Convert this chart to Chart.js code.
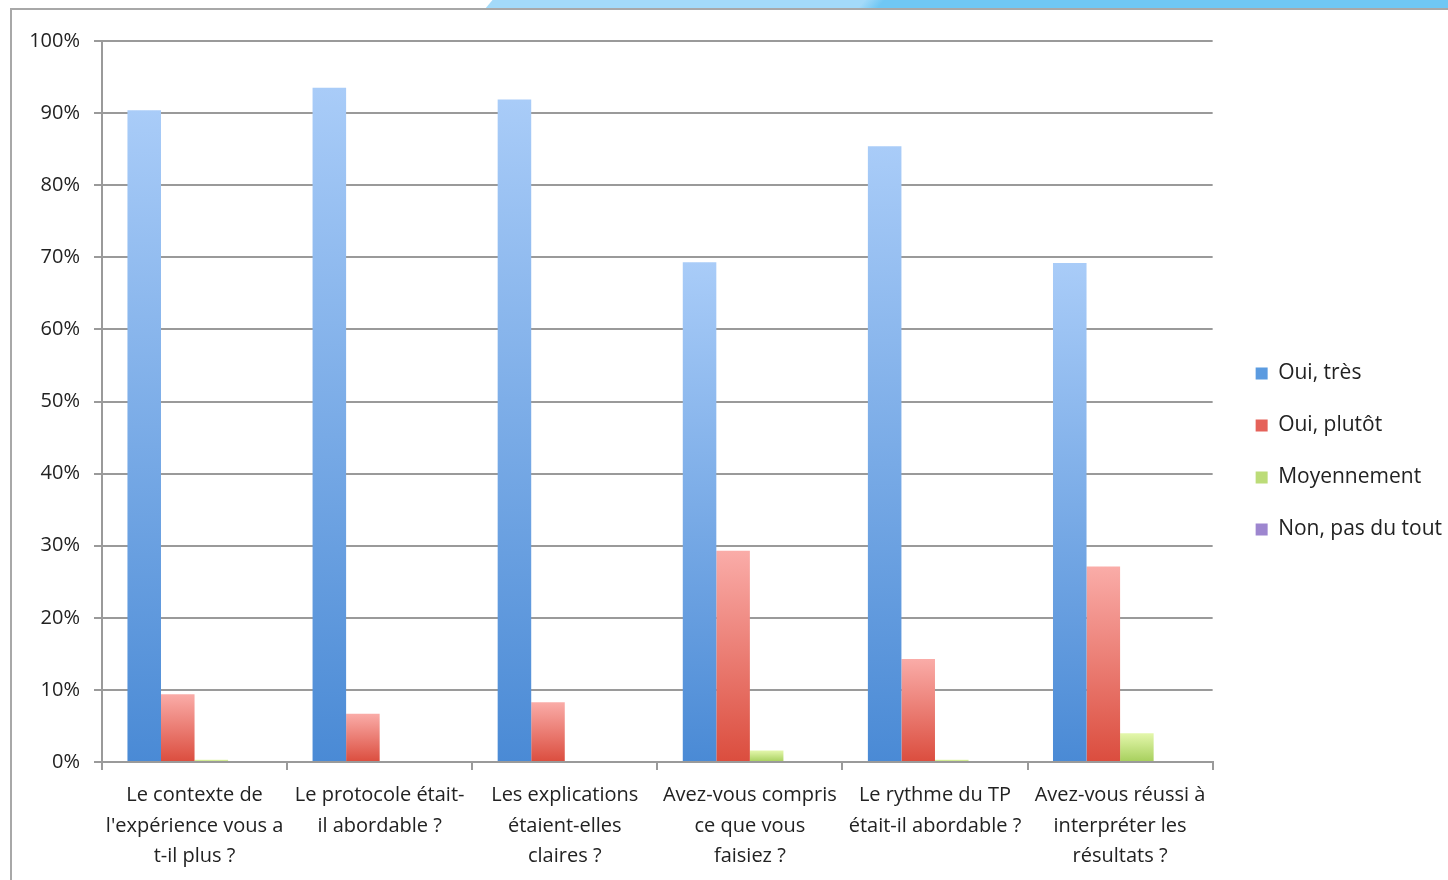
<!DOCTYPE html>
<html>
<head>
<meta charset="utf-8">
<script src="https://cdn.jsdelivr.net/npm/chart.js@4.4.1/dist/chart.umd.min.js"></script>
<style>
  html, body { margin: 0; padding: 0; background: #fff; }
  body { width: 1448px; height: 880px; position: relative; overflow: hidden; }
  #band {
    position: absolute; left: 490px; top: -2px; width: 980px; height: 10px;
    background: linear-gradient(90deg, #a3daf9 0%, #a3daf9 38%, #6fc7f4 40%, #6fc7f4 100%);
    transform: skewX(-40deg);
  }
  #frame {
    position: absolute; left: 10px; top: 8px; width: 1438px; height: 872px;
    border-left: 2px solid #a8a8a8; border-top: 2px solid #a8a8a8;
  }
  #wrap { position: absolute; left: 12px; top: 10px; width: 1436px; height: 870px; }
</style>
</head>
<body>
<div id="band"></div>
<div id="frame"></div>
<div id="wrap"><canvas id="c"></canvas></div>
<script>
const categories = [
    ["Le contexte de", "l'expérience vous a", "t-il plus ?"],
    ["Le protocole était-", "il abordable ?"],
    ["Les explications", "étaient-elles", "claires ?"],
    ["Avez-vous compris", "ce que vous", "faisiez ?"],
    ["Le rythme du TP", "était-il abordable ?"],
    ["Avez-vous réussi à", "interpréter les", "résultats ?"]
];

const seriesNames = ['Oui, très', 'Oui, plutôt', 'Moyennement', 'Non, pas du tout'];

const ouiTres     = [90.4, 93.5, 91.9, 69.3, 85.4, 69.2];
const ouiPlutot   = [9.4, 6.7, 8.3, 29.3, 14.3, 27.1];
const moyennement = [0.3, 0, 0, 1.6, 0.3, 4.0];
const nonPasDuTout = [0, 0, 0, 0, 0, 0];

const yTicks = [0, 10, 20, 30, 40, 50, 60, 70, 80, 90, 100];

// light (top) / dark (bottom) per series, plus flat legend colour
const shades = [
    { light: '#a9ccf8', dark: '#4a8ad5', flat: '#5b9be0' },
    { light: '#faaca8', dark: '#db4d3e', flat: '#e5625a' },
    { light: '#e4f7ac', dark: '#a6cf5c', flat: '#bcdc78' },
    { light: '#cbb6e8', dark: '#8a6cbf', flat: '#9d86cf' }
];

const font = "'Open Sans', 'DejaVu Sans', sans-serif";

function barGradient(light, dark) {
    return ctx => {
        if (ctx.type !== 'data' || !ctx.parsed) return dark;
        const y = ctx.chart.scales.y;
        const top = y.getPixelForValue(ctx.parsed.y);
        const base = y.getPixelForValue(0);
        if (!isFinite(top) || !isFinite(base) || base - top < 1) return dark;
        const g = ctx.chart.ctx.createLinearGradient(0, top, 0, base);
        g.addColorStop(0, light);
        g.addColorStop(1, dark);
        return g;
    };
}

const seriesValues = [ouiTres, ouiPlutot, moyennement, nonPasDuTout];

const datasets = seriesValues.map((vals, i) => ({
    label: seriesNames[i],
    data: vals,
    backgroundColor: barGradient(shades[i].light, shades[i].dark),
    borderWidth: 0,
    barPercentage: 1,
    categoryPercentage: 0.725
}));

// nudge the legend box a bit right/up, like the original sheet
const legendNudge = {
    id: 'legendNudge',
    afterLayout(chart) {
        const lg = chart.legend;
        if (!lg) return;
        lg.left += 12; lg.right += 12;
        lg.top -= 9; lg.bottom -= 9;
    }
};

new Chart(document.getElementById('c').getContext('2d'), {
    type: 'bar',
    data: { labels: categories, datasets },
    plugins: [legendNudge],
    options: {
        responsive: true,
        maintainAspectRatio: false,
        animation: false,
        layout: { padding: { top: 31, right: 8, left: 0, bottom: 0 } },
        scales: {
            y: {
                min: 0,
                max: 100,
                afterBuildTicks: s => { s.ticks = yTicks.map(v => ({ value: v })); },
                afterFit: s => { s.width = 90; },
                ticks: {
                    callback: v => v + '%',
                    color: '#222',
                    font: { family: font, size: 20 },
                    padding: 14
                },
                grid: { color: '#9a9a9a', lineWidth: 2, tickLength: 8 },
                border: { color: '#9a9a9a', width: 2 }
            },
            x: {
                afterFit: s => { s.height = 118; },
                ticks: {
                    color: '#222',
                    font: { family: font, size: 20, lineHeight: 1.53 },
                    maxRotation: 0,
                    autoSkip: false,
                    padding: 10
                },
                grid: {
                    offset: true,
                    drawOnChartArea: false,
                    color: '#9a9a9a',
                    lineWidth: 2,
                    tickLength: 8
                },
                border: { color: '#9a9a9a', width: 2 }
            }
        },
        plugins: {
            tooltip: { enabled: false },
            legend: {
                position: 'right',
                labels: {
                    boxWidth: 12,
                    boxHeight: 12,
                    padding: 31,
                    color: '#222',
                    font: { family: font, size: 21 },
                    generateLabels(chart) {
                        const items = Chart.defaults.plugins.legend.labels.generateLabels(chart);
                        items.forEach((it, i) => {
                            it.fillStyle = shades[i].flat;
                            it.strokeStyle = shades[i].flat;
                            it.lineWidth = 0;
                        });
                        return items;
                    }
                }
            }
        }
    }
});
</script>
</body>
</html>
